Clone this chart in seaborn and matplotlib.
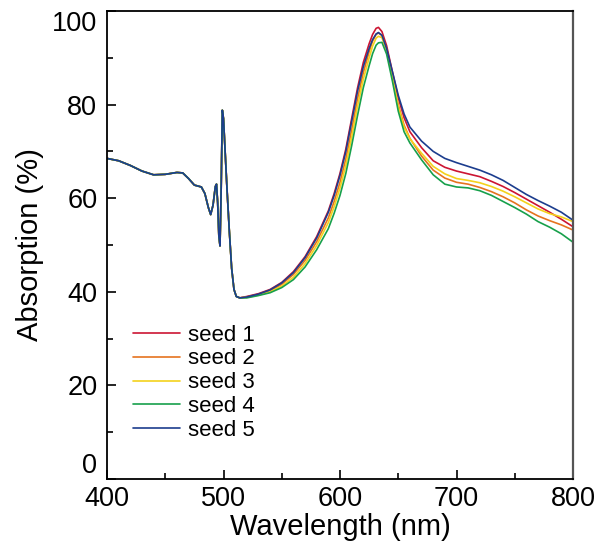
import numpy as np
import pandas as pd
import matplotlib
matplotlib.use("Agg")
import matplotlib.pyplot as plt
from matplotlib.ticker import MultipleLocator
import seaborn as sns

# ---- data ----
# shared part of all five spectra (400-514 nm)
wl_shared = [400, 410, 420, 430, 440, 450, 460, 465, 470, 475, 478, 481, 484, 487,
             489, 491, 493, 494, 495, 496, 497, 498, 499, 500, 501, 503, 505, 507,
             509, 511, 514]
abs_shared = [68.5, 68.0, 67.0, 65.8, 65.0, 65.1, 65.5, 65.4, 64.2, 62.8, 62.6, 62.4,
              61.0, 58.0, 56.5, 58.5, 62.5, 63.0, 59.0, 52.0, 49.8, 62.0, 78.8, 77.0,
              72.0, 62.0, 53.0, 45.0, 40.5, 39.0, 38.7]

# per-seed part (520-800 nm)
wl_tail = [520, 530, 540, 550, 560, 570, 580, 590, 595, 600, 605, 610, 615, 620, 625,
           628, 631, 633, 636, 640, 645, 650, 655, 660, 670, 680, 690, 700, 710, 720,
           730, 740, 750, 760, 770, 780, 790, 800]
seed1 = [39.0, 39.6, 40.5, 42.0, 44.3, 47.5, 51.8, 57.3, 61.0, 65.3, 70.5, 77.0, 83.5,
         89.0, 93.0, 95.0, 96.3, 96.5, 95.6, 92.6, 87.0, 81.5, 77.2, 74.2, 70.8, 68.0,
         66.6, 65.8, 65.2, 64.6, 63.6, 62.5, 61.2, 59.8, 58.4, 57.0, 55.5, 53.9]
seed2 = [38.9, 39.4, 40.2, 41.6, 43.7, 46.7, 50.7, 55.8, 59.3, 63.4, 68.4, 74.6, 81.2,
         86.8, 91.3, 93.6, 95.0, 95.3, 94.8, 91.8, 86.0, 80.0, 75.6, 72.8, 69.0, 66.0,
         64.3, 63.4, 63.0, 62.3, 61.4, 60.3, 59.0, 57.5, 56.2, 55.2, 54.3, 53.2]
seed3 = [38.8, 39.3, 40.0, 41.2, 43.1, 46.0, 49.9, 54.8, 58.2, 62.2, 67.0, 73.0, 79.6,
         85.4, 90.0, 92.5, 94.2, 94.6, 94.3, 91.5, 85.8, 79.6, 75.2, 72.7, 69.6, 66.8,
         65.2, 64.2, 63.8, 63.3, 62.5, 61.5, 60.3, 59.0, 57.7, 56.7, 56.0, 55.0]
seed4 = [38.7, 39.2, 39.8, 40.9, 42.6, 45.3, 49.0, 53.5, 56.8, 60.6, 65.3, 71.2, 77.6,
         83.6, 88.3, 90.9, 92.7, 93.2, 93.3, 90.8, 85.0, 78.6, 74.2, 71.8, 68.2, 65.0,
         63.0, 62.4, 62.2, 61.6, 60.6, 59.3, 58.0, 56.6, 55.0, 53.8, 52.4, 50.6]
seed5 = [38.9, 39.5, 40.4, 41.9, 44.1, 47.3, 51.5, 57.0, 60.6, 64.9, 70.0, 76.4, 82.8,
         88.1, 92.0, 93.9, 95.1, 95.4, 94.8, 92.0, 87.0, 82.0, 78.0, 75.2, 72.2, 70.0,
         68.5, 67.6, 66.8, 66.0, 65.0, 63.8, 62.3, 60.8, 59.5, 58.3, 57.0, 55.3]

seed_names = ["seed 1", "seed 2", "seed 3", "seed 4", "seed 5"]
seed_values = [seed1, seed2, seed3, seed4, seed5]
colors = ["#CC1533", "#E5731F", "#F4D21C", "#17A04B", "#1C3D8E"]

x_ticks = [400, 500, 600, 700, 800]
y_ticks = [0, 20, 40, 60, 80, 100]

# ---- build table ----
rows = []
for name, vals in zip(seed_names, seed_values):
    for w, a in zip(wl_shared + wl_tail, abs_shared + vals):
        rows.append((name, w, a))
df = pd.DataFrame(rows, columns=["seed", "wavelength", "absorption"])

# ---- style ----
sns.set_theme(style="ticks")
plt.rcParams["font.family"] = ["Liberation Sans", "DejaVu Sans"]
for key in ["text.color", "axes.labelcolor", "xtick.color", "ytick.color"]:
    plt.rcParams[key] = "black"

fig = plt.figure(figsize=(5.98, 5.49), dpi=100)
ax = fig.add_axes([107 / 598, 70 / 549, 466 / 598, 468 / 549])

sns.lineplot(data=df, x="wavelength", y="absorption", hue="seed",
             palette=dict(zip(seed_names, colors)), estimator=None, sort=False,
             linewidth=1.2, ax=ax)

ax.set_xlim(400, 800)
ax.set_ylim(0, 100)
ax.set_xticks(x_ticks)
ax.set_yticks(y_ticks)
ax.xaxis.set_minor_locator(MultipleLocator(50))
ax.yaxis.set_minor_locator(MultipleLocator(10))
ax.tick_params(which="both", direction="in", top=False, right=False,
               width=1.2, color="black")
ax.tick_params(which="major", length=6.5, labelsize=19.5)
ax.tick_params(axis="y", which="major", pad=7)
ax.tick_params(axis="x", which="major", pad=5)
ax.tick_params(which="minor", length=4)

# end labels pulled inside the axis span, as in the reference
ylabels = ax.get_yticklabels()
ylabels[0].set_verticalalignment("bottom")
ylabels[-1].set_verticalalignment("top")

for side in ["left", "bottom", "top"]:
    ax.spines[side].set_color("black")
    ax.spines[side].set_linewidth(1.3)
ax.spines["right"].set_color("#555555")
ax.spines["right"].set_linewidth(1.6)

ax.set_xlabel("Wavelength (nm)", fontsize=21, labelpad=1)
ax.set_ylabel("Absorption (%)", fontsize=21, labelpad=6)

leg = ax.legend(loc="upper left", bbox_to_anchor=(0.056, 0.33), frameon=False,
                fontsize=16, handlelength=2.1, handletextpad=0.35,
                labelspacing=0.13, borderaxespad=0, borderpad=0)
for line in leg.get_lines():
    line.set_linewidth(1.2)

fig.savefig("out.png", dpi=100)
